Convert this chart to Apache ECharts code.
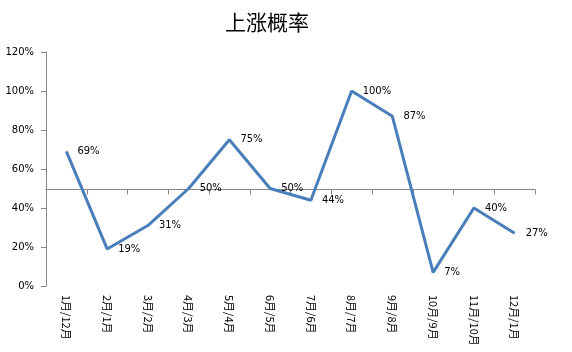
<!DOCTYPE html>
<html><head><meta charset="utf-8">
<script src="https://cdn.jsdelivr.net/npm/echarts@6/dist/echarts.min.js"></script>
<style>html,body{margin:0;padding:0;background:#fff}#c{width:572px;height:352px}</style>
</head><body><div id="c"></div>
<script>
const categories = ['1月/12月','2月/1月','3月/2月','4月/3月','5月/4月','6月/5月','7月/6月','8月/7月','9月/8月','10月/9月','11月/10月','12月/1月'];
const values = [0.69, 0.19, 0.31, 0.50, 0.75, 0.50, 0.44, 1.00, 0.87, 0.07, 0.40, 0.27];
const yTicks = [0, 0.2, 0.4, 0.6, 0.8, 1.0, 1.2];
const crossValue = 0.5;
const title = '上涨概率';

const chart = echarts.init(document.getElementById('c'));
const axisColor = '#868686';
const numFont = 'DejaVu Sans';
chart.setOption({
  animation: false,
  title: {text: title, left: 262, textAlign: 'center', top: 7,
    textStyle: {fontFamily: 'Noto Sans CJK SC', fontSize: 21, fontWeight: 'normal', color: '#000'}},
  grid: [
    {left: 46, right: 37, top: 52, bottom: 66},
    {left: 46, right: 37, top: 52 + (1.2 - crossValue) / 1.2 * 234, height: 1}
  ],
  xAxis: [
    {type: 'category', gridIndex: 0, data: categories, boundaryGap: true,
      axisLine: {show: false}, axisTick: {show: false},
      axisLabel: {rotate: -90, interval: 0, margin: 9, color: '#000',
        fontFamily: 'Noto Sans CJK SC', fontSize: 11}},
    {type: 'category', gridIndex: 1, data: categories, boundaryGap: true, position: 'top',
      axisLine: {show: true, lineStyle: {color: axisColor, width: 1}},
      axisTick: {show: true, inside: true, length: 5, interval: 0, lineStyle: {color: axisColor}},
      axisLabel: {show: false}}
  ],
  yAxis: [
    {type: 'value', gridIndex: 0, min: yTicks[0], max: yTicks[yTicks.length - 1], interval: 0.2,
      axisLine: {show: true, lineStyle: {color: axisColor}},
      axisTick: {show: true, length: 5, lineStyle: {color: axisColor}},
      splitLine: {show: false},
      axisLabel: {margin: 12, color: '#000', fontFamily: numFont, fontSize: 10,
        formatter: v => Math.round(v * 100) + '%'}},
    {type: 'value', gridIndex: 1, show: false, min: 0, max: 1}
  ],
  series: [{
    type: 'line', data: values, xAxisIndex: 0, yAxisIndex: 0,
    symbol: 'circle', symbolSize: 2, showSymbol: true, showAllSymbol: true,
    itemStyle: {color: 'rgba(74,126,187,0)', borderWidth: 0},
    lineStyle: {color: '#4A7EBB', width: 3},
    label: {show: true, position: 'right', distance: 10, color: '#000',
      fontFamily: numFont, fontSize: 10,
      formatter: p => Math.round(p.value * 100) + '%'}
  }]
});
</script></body></html>
